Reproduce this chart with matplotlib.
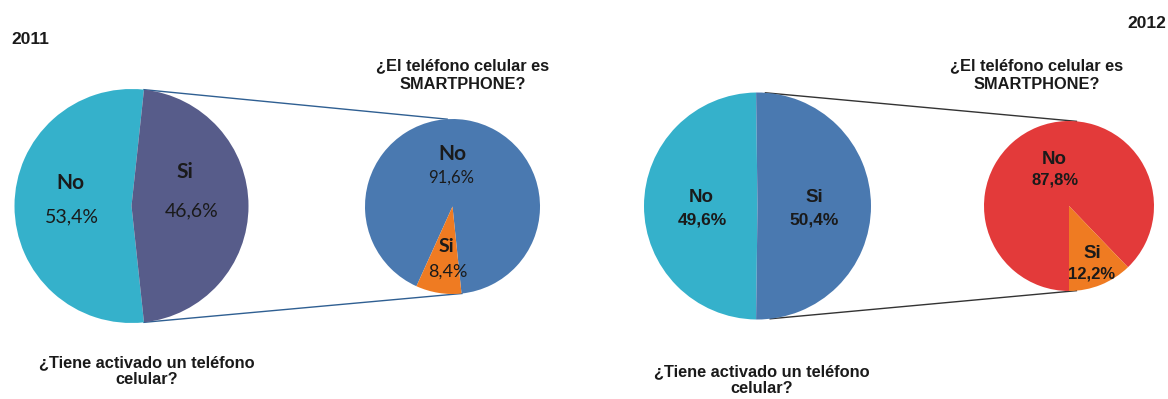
import numpy as np
import matplotlib.pyplot as plt

# survey shares (percent)
labels = ["No", "Si"]
tiene_2011 = [53.4, 46.6]
smart_2011 = [91.6, 8.4]
tiene_2012 = [49.6, 50.4]
smart_2012 = [87.8, 12.2]

years = ["2011", "2012"]
q_main = "¿Tiene activado un teléfono\ncelular?"
q_smart = "¿El teléfono celular es\nSMARTPHONE?"

W, H = 1168, 399
fig = plt.figure(figsize=(W / 100, H / 100), dpi=100)
ax = fig.add_axes([0, 0, 1, 1])


def fmt(v):
    return f"{v:.1f}%".replace(".", ",")


def pt(c, r, ang):
    a = np.radians(ang)
    return c[0] + r * np.cos(a), c[1] + r * np.sin(a)


def panel(main, smart, cm, rm, cs, rs, main_cols, smart_cols, smart_start,
          line_col, line_angles, lab_pos, big_font, pct_font, pct_weight):
    ax.pie(main, colors=main_cols, startangle=main[1] * 1.8, counterclock=True,
           center=cm, radius=rm, wedgeprops=dict(linewidth=0))
    ax.pie(smart, colors=smart_cols, startangle=smart_start, counterclock=True,
           center=cs, radius=rs, wedgeprops=dict(linewidth=0))
    # connector lines between the two pies
    for (am, a_s) in line_angles:
        p0 = pt(cm, rm, am)
        p1 = pt(cs, rs, a_s)
        ax.plot([p0[0], p1[0]], [p0[1], p1[1]], color=line_col, lw=1, zorder=0)
    vals = list(main) + list(smart)
    names = labels + labels
    for (lx, ly, px, py, fs1, fs2), v, n in zip(lab_pos, vals, names):
        ax.text(lx, H - ly, n, ha="center", va="center", fontsize=fs1,
                fontweight="bold", family=big_font, color="#1a1a1a")
        ax.text(px, H - py, fmt(v), ha="center", va="center", fontsize=fs2,
                fontweight=pct_weight, family=pct_font, color="#1a1a1a")


# 2011
panel(tiene_2011, smart_2011, (131.5, H - 206), 117, (452.5, H - 206.5), 87.5,
      ["#35b1cb", "#575c8a"], ["#4a79b0", "#ef7b22"], -84.1,
      "#2f5f92", [(83.9, 93.5), (-83.9, -83.8)],
      [(70, 183, 72, 217, 15, 14),
       (185, 172, 192, 211, 15, 14),
       (452, 154, 451, 178, 15, 12),
       (446, 247, 448, 272, 14, 13)],
      ["Lato", "DejaVu Sans"], ["Lato", "DejaVu Sans"], "normal")

# 2012
panel(tiene_2012, smart_2012, (757.5, H - 206), 113.5, (1069, H - 206), 85,
      ["#35b1cb", "#4a79b0"], ["#e33a3a", "#ef7b22"], -90 + smart_2012[1] * 3.6,
      "#333333", [(86, 85), (-83.6, -85)],
      [(701, 198, 702.5, 220, 13.5, 12.5),
       (814, 198, 814.5, 220, 13.5, 12.5),
       (1054, 159, 1055.5, 180, 13.5, 12),
       (1092, 253, 1092, 274, 13.5, 12)],
      "Liberation Sans", "Liberation Sans", "bold")

ax.text(11, H - 40, years[0], fontsize=12.5, fontweight="bold", family="Liberation Sans",
        ha="left", va="center", color="#1a1a1a")
ax.text(1166, H - 23, years[1], fontsize=12.5, fontweight="bold", family="Liberation Sans",
        ha="right", va="center", color="#1a1a1a")

for x, y in [(463, 75), (1036.5, 75)]:
    ax.text(x, H - y, q_smart, fontsize=11.8, fontweight="bold", family="Liberation Sans",
            ha="center", va="center", linespacing=1.28, color="#1a1a1a")
for x, y in [(147, 371), (761.5, 380)]:
    ax.text(x, H - y, q_main, fontsize=11.8, fontweight="bold", family="Liberation Sans",
            ha="center", va="center", linespacing=1.2, color="#1a1a1a")

ax.set_xlim(0, W)
ax.set_ylim(0, H)
ax.set_aspect("auto")
ax.axis("off")
fig.savefig("out.png", dpi=100)
